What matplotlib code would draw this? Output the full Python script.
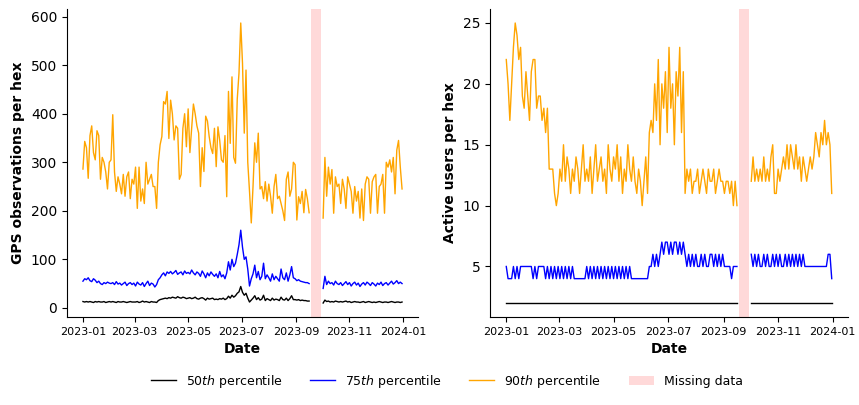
import matplotlib
matplotlib.use("Agg")
import matplotlib.pyplot as plt
from matplotlib.lines import Line2D
from matplotlib.patches import Patch
import numpy as np
import pandas as pd

# values every 2 days, 2023-01-01 .. 2023-12-31 (None = missing data)
gap = [None] * 7

# left panel: GPS observations per hex
gps_p50 = ([13, 12, 13, 12, 13, 12, 11, 13, 12, 13, 12, 12, 13, 11, 12, 13]
           + [12, 13, 12, 11, 13, 12, 12, 13, 12, 11, 12, 13, 12, 12]
           + [12, 13, 11, 12, 14, 12, 13, 12, 11, 13, 12, 12, 11, 15, 17]
           + [18, 19, 20, 19, 21, 20, 22, 21, 20, 23, 21, 20, 22, 21, 19]
           + [20, 21, 19, 20, 22, 19, 18, 20, 21, 19, 16, 20, 18, 19, 20, 17]
           + [18, 17, 19, 18, 20, 17, 19, 24, 20, 26, 22, 25, 30, 33]
           + [44, 32, 26, 30, 20, 12, 16, 20, 25, 17, 21, 16, 18, 26, 15, 19]
           + [17, 15, 20, 16, 18, 17, 15, 22, 17, 16, 20, 15, 19, 25, 17]
           + [17, 16, 17, 15, 16, 15, 15, 14, 14]
           + gap
           + [10, 16, 13, 14, 12, 13, 12, 14, 13, 12, 13, 12, 13, 14, 12, 13,
              11, 12, 13, 12, 12, 11, 12, 13, 11, 12, 13, 12, 11, 12, 11, 12,
              13, 12, 11, 12, 12, 11, 12, 13, 12, 11, 12, 12, 11, 12])

gps_p75 = ([55, 60, 58, 62, 56, 54, 60, 57, 52, 55, 50, 48, 52, 50, 53, 51]
           + [50, 52, 48, 54, 49, 51, 47, 50, 53, 46, 50, 52, 48, 51]
           + [45, 53, 49, 47, 52, 44, 50, 55, 46, 51, 49, 43, 48, 58, 62]
           + [68, 72, 66, 74, 71, 75, 70, 73, 77, 69, 72, 74, 68, 76, 71]
           + [73, 70, 78, 72, 68, 74, 71, 65, 76, 70, 62, 72, 66, 74, 69, 65]
           + [70, 62, 75, 64, 68, 60, 72, 95, 78, 100, 85, 92, 110, 130]
           + [160, 125, 100, 105, 80, 45, 60, 70, 88, 62, 75, 58, 65, 92, 60, 68]
           + [62, 55, 70, 58, 65, 60, 55, 80, 62, 58, 72, 55, 68, 85, 62]
           + [60, 56, 58, 55, 54, 53, 52, 52, 50]
           + gap
           + [40, 65, 48, 55, 50, 52, 47, 55, 50, 48, 52, 46, 50, 54, 48, 52,
              45, 50, 53, 47, 51, 44, 49, 52, 47, 53, 50, 46, 52, 49, 45, 51,
              48, 53, 46, 50, 52, 47, 51, 55, 49, 52, 56, 50, 53, 50])

gps_p90 = ([286, 343, 330, 267, 355, 375, 320, 305, 365, 355, 265, 310, 300, 280, 245, 300]
           + [305, 398, 280, 240, 270, 255, 235, 275, 230, 270, 280, 225, 265, 255]
           + [290, 205, 290, 220, 245, 215, 300, 255, 265, 275, 250, 250, 205, 300, 336]
           + [353, 425, 420, 446, 349, 428, 400, 346, 375, 370, 265, 275, 370, 400, 332, 410]
           + [320, 370, 420, 400, 375, 360, 250, 330, 281, 395, 385, 353, 330, 318, 370]
           + [291, 373, 345, 305, 300, 355, 229, 446, 339, 476, 310, 298, 430, 484]
           + [587, 504, 360, 490, 300, 240, 175, 250, 340, 300, 360, 245, 250, 225, 260, 220]
           + [255, 230, 195, 250, 275, 225, 230, 215, 200, 180, 265, 280, 230, 245, 300]
           + [295, 181, 229, 215, 240, 196, 244, 225, 196]
           + gap
           + [185, 310, 230, 290, 255, 285, 195, 270, 250, 255, 215, 265, 245, 205, 270, 255,
              240, 195, 250, 220, 240, 185, 245, 180, 255, 270, 265, 195, 260, 270, 275, 195,
              250, 255, 275, 195, 300, 290, 305, 280, 310, 235, 325, 345, 290, 245])

# right panel: active users per hex
users_p50 = [2] * 130 + gap + [2] * 46

users_p75 = ([5, 4, 4, 4, 5, 4, 5, 4, 5, 5, 5, 5, 5, 5, 5, 4]
             + [5, 4, 5, 5, 5, 5, 4, 5, 4, 5, 4, 5, 4, 5]
             + [4, 5, 4, 5, 4, 5, 4, 5, 4, 4, 4, 4, 4, 4, 4]
             + [5, 4, 5, 4, 5, 4, 5, 4, 5, 4, 5, 4, 5, 4, 5]
             + [4, 5, 4, 5, 4, 5, 4, 5, 4, 5, 4, 4, 4, 4, 4, 4]
             + [4, 4, 4, 4, 5, 5, 6, 5, 6, 5, 6, 7, 6, 7]
             + [7, 6, 7, 6, 7, 7, 6, 7, 6, 7, 6, 5, 6, 5, 6, 5]
             + [6, 5, 5, 6, 5, 6, 5, 5, 6, 6, 5, 6, 5, 6, 5]
             + [6, 5, 5, 5, 5, 4, 5, 5, 5]
             + gap
             + [6, 5, 6, 5, 6, 5, 5, 6, 5, 6, 5, 5, 6, 5, 6, 5, 6, 5, 5, 6, 5, 6, 5,
                6, 5, 6, 5, 6, 5, 6, 5, 5, 5, 5, 5, 5, 5, 5, 5, 5, 5, 5, 5, 6, 6, 4])

users_p90 = ([22, 20, 17, 20, 23, 25, 24, 22, 23, 19, 18, 21, 19, 17, 21, 22]
             + [22, 18, 19, 19, 17, 18, 16, 18, 13, 13, 13, 11, 10, 11]
             + [13, 12, 15, 12, 14, 13, 11, 13, 12, 14, 13, 11, 13, 15, 12]
             + [13, 12, 14, 11, 13, 15, 12, 13, 14, 12, 13, 11, 15, 13, 12]
             + [14, 13, 15, 12, 14, 11, 13, 12, 15, 13, 12, 14, 12, 11, 13, 12]
             + [10, 12, 14, 11, 16, 17, 16, 20, 17, 22, 15, 20, 18, 21]
             + [16, 23, 18, 20, 15, 21, 19, 23, 16, 21, 11, 13, 12, 13, 11, 12]
             + [12, 13, 11, 12, 13, 12, 11, 13, 12, 12, 13, 11, 12, 13, 12]
             + [12, 11, 12, 12, 11, 12, 10, 12, 10]
             + gap
             + [12, 14, 12, 13, 12, 13, 12, 14, 12, 13, 12, 14, 15, 11, 11, 13,
                12, 13, 14, 13, 15, 13, 15, 14, 13, 15, 13, 14, 12, 14, 13, 12,
                13, 14, 13, 14, 16, 15, 14, 16, 15, 17, 15, 16, 15, 11])

missing_start, missing_end = "2023-09-18", "2023-09-30"

dates = pd.date_range("2023-01-01", periods=183, freq="2D")

def arr(v):
    return np.array([np.nan if a is None else a for a in v], dtype=float)

colors = ["black", "blue", "orange"]
labels = ["50$th$ percentile", "75$th$ percentile", "90$th$ percentile"]

fig, axes = plt.subplots(1, 2, figsize=(8.59, 4.05), dpi=100)
axes[0].set_position([67 / 859, 88 / 405, 351 / 859, 308 / 405])
axes[1].set_position([490 / 859, 88 / 405, 358 / 859, 308 / 405])

panels = [
    (axes[0], [gps_p50, gps_p75, gps_p90], "GPS observations per hex"),
    (axes[1], [users_p50, users_p75, users_p90], "Active users per hex"),
]
for ax, series, ylab in panels:
    for s, c in zip(series, colors):
        ax.plot(dates, arr(s), color=c, lw=1)
    ax.axvspan(pd.Timestamp(missing_start), pd.Timestamp(missing_end),
               color="red", alpha=0.15, lw=0)
    ax.set_xlabel("Date", fontweight="bold")
    ax.set_ylabel(ylab, fontweight="bold")
    ax.spines["top"].set_visible(False)
    ax.spines["right"].set_visible(False)
    ax.tick_params(axis="x", labelsize=8)

handles = [Line2D([], [], color=c, lw=1) for c in colors]
handles.append(Patch(facecolor="red", alpha=0.15))
fig.legend(handles, labels + ["Missing data"], loc="lower center",
           bbox_to_anchor=(0.52, 0.01), ncol=4, frameon=False, fontsize=9,
           columnspacing=2.2)

fig.savefig("out.png", dpi=100)
